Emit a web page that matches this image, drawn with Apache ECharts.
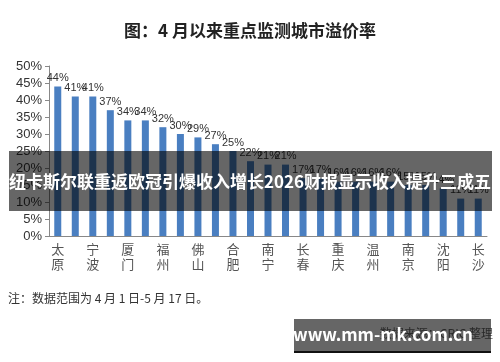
<!DOCTYPE html>
<html>
<head>
<meta charset="utf-8">
<script src="https://cdn.jsdelivr.net/npm/echarts@6/dist/echarts.min.js"></script>
<style>
  html, body { margin: 0; padding: 0; background: #fff; }
  #main { width: 500px; height: 362px; }
</style>
</head>
<body>
<div id="main"></div>
<script>
// 城市（每根柱子一个城市，横轴隔一个显示）
var cities = ['太原', '郑州', '宁波', '无锡', '厦门', '苏州', '福州', '杭州', '佛山', '济南', '合肥', '成都',
    '南宁', '武汉', '长春', '西安', '重庆', '天津', '温州', '昆明', '南京', '青岛', '沈阳', '大连', '长沙'];
// 溢价率 %
var premium = [44, 41, 41, 37, 34, 34, 32, 30, 29, 27, 25, 22, 21, 21, 17, 17, 16, 16, 16, 16, 15, 15, 14, 11, 11];
var yTicks = [0, 50, 5];

var titleText = '图：4 月以来重点监测城市溢价率';
var noteText = '注：数据范围为 4 月 1 日-5 月 17 日。';
var sourceText = '数据来源：CRIC 整理';
var bannerText = '纽卡斯尔联重返欧冠引爆收入增长2026财报显示收入提升三成五';
var markText = 'www.mm-mk.com.cn';

var font = '"Noto Sans CJK SC", "Noto Sans", sans-serif';
var myChart = echarts.init(document.getElementById('main'));

var option = {
    animation: false,
    title: {
        left: 'center',
        top: 17,
        text: titleText,
        textStyle: { color: '#222', fontSize: 17, fontWeight: 'bold', fontFamily: font }
    },
    grid: { left: 49, right: 13, top: 66, bottom: 126 },
    xAxis: {
        type: 'category',
        data: cities,
        axisLine: { lineStyle: { color: '#888' } },
        axisTick: { interval: 0, length: 4, lineStyle: { color: '#888' } },
        axisLabel: {
            interval: 1,
            color: '#555',
            fontSize: 13,
            lineHeight: 15,
            margin: 6,
            fontFamily: font,
            formatter: function (v) { return v.split('').join('\n'); }
        }
    },
    yAxis: {
        type: 'value',
        min: yTicks[0],
        max: yTicks[1],
        interval: yTicks[2],
        axisLine: { show: true, lineStyle: { color: '#888' } },
        axisTick: { show: true, length: 4, lineStyle: { color: '#888' } },
        splitLine: { show: false },
        axisLabel: { color: '#333', fontSize: 13, margin: 7, formatter: '{value}%', fontFamily: 'Liberation Sans, Arial, sans-serif' }
    },
    series: [{
        type: 'bar',
        data: premium,
        barWidth: 7,
        itemStyle: { color: '#4a7fc1' },
        label: {
            show: true,
            position: 'top',
            distance: 3,
            color: '#333',
            fontSize: 11,
            fontFamily: 'Liberation Sans, Arial, sans-serif',
            formatter: '{c}%'
        }
    }],
    graphic: [
        {
            type: 'text', left: 8, top: 292, z: 10,
            style: { text: noteText, fill: '#333', font: '12px ' + font }
        },
        {
            type: 'text', right: 7, top: 327, z: 10,
            style: { text: sourceText, fill: '#666', font: '12px ' + font }
        },
        {
            type: 'rect', shape: { x: 9, y: 151, width: 483, height: 60 }, z: 100,
            style: { fill: 'rgba(0,0,0,0.6)' }
        },
        {
            type: 'text', x: 250, y: 182, z: 101,
            style: { text: bannerText, fill: '#fff', font: 'bold 17px ' + font, align: 'center', verticalAlign: 'middle' }
        },
        {
            type: 'rect', shape: { x: 294, y: 319, width: 197, height: 33 }, z: 100,
            style: { fill: 'rgba(0,0,0,0.6)' }
        },
        {
            type: 'rect', shape: { x: 294, y: 351, width: 197, height: 2 }, z: 100,
            style: { fill: '#111' }
        },
        {
            type: 'text', x: 383, y: 335, z: 101,
            style: { text: markText, fill: '#fff', font: 'bold 17px ' + font, align: 'center', verticalAlign: 'middle' }
        }
    ]
};
myChart.setOption(option);
</script>
</body>
</html>
